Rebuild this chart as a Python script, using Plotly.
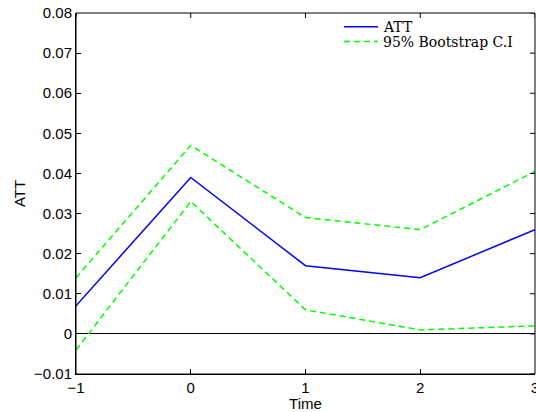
import plotly.graph_objects as go

time = [-1, 0, 1, 2, 3]
att = [0.007, 0.039, 0.017, 0.014, 0.026]
ci_upper = [0.014, 0.047, 0.029, 0.026, 0.0405]
ci_lower = [-0.004, 0.033, 0.006, 0.001, 0.002]

x_ticks = [-1, 0, 1, 2, 3]
y_ticks = [-0.01, 0, 0.01, 0.02, 0.03, 0.04, 0.05, 0.06, 0.07, 0.08]
x_range = [-1, 3]
y_range = [-0.01, 0.08]

legend_labels = ["ATT", "95% Bootstrap C.I"]
BLUE = "#0000ff"
GREEN = "#00ff00"
DASH = "6px,4px"

W, H = 536, 412
ML, MR, MT, MB = 76, 1, 13, 38
PW, PH = W - ML - MR, H - MT - MB
TICKLEN = 5

fig = go.Figure()
fig.add_trace(go.Scatter(x=time, y=att, mode="lines", name=legend_labels[0],
                         line=dict(color=BLUE, width=1.5)))
fig.add_trace(go.Scatter(x=time, y=ci_upper, mode="lines", name=legend_labels[1],
                         line=dict(color=GREEN, width=1.5, dash=DASH)))
fig.add_trace(go.Scatter(x=time, y=ci_lower, mode="lines", name=legend_labels[1],
                         line=dict(color=GREEN, width=1.5, dash=DASH)))

sans = "Liberation Sans, Arial, Helvetica, sans-serif"
tickfont = dict(family=sans, size=15, color="black")
axis_common = dict(showgrid=False, showline=True, linecolor="black", linewidth=1,
                   ticks="inside", ticklen=TICKLEN, tickcolor="black", tickwidth=1,
                   automargin=False, tickfont=tickfont)

# frame box and mirrored tick marks on top / right (MATLAB "box on")
shapes = [dict(type="rect", xref="paper", yref="paper", x0=0, x1=1, y0=0, y1=1,
               line=dict(color="black", width=1), layer="above")]
for xv in x_ticks:
    shapes.append(dict(type="line", xref="x", yref="paper", x0=xv, x1=xv,
                       y0=1, y1=1 - TICKLEN / PH, line=dict(color="black", width=1)))
for yv in y_ticks:
    shapes.append(dict(type="line", xref="paper", yref="y", x0=1, x1=1 - TICKLEN / PW,
                       y0=yv, y1=yv, line=dict(color="black", width=1)))

# legend drawn as paper-positioned samples and labels (no box, like the reference)
leg_x0, leg_x1, leg_tx = 0.584, 0.658, 0.664
leg_rows = [0.962, 0.921]
shapes += [
    dict(type="line", xref="paper", yref="paper", x0=leg_x0, x1=leg_x1,
         y0=leg_rows[0], y1=leg_rows[0], line=dict(color=BLUE, width=1.5)),
    dict(type="line", xref="paper", yref="paper", x0=leg_x0, x1=leg_x1,
         y0=leg_rows[1], y1=leg_rows[1], line=dict(color=GREEN, width=1.5, dash=DASH)),
]
annotations = [
    dict(text=lab, xref="paper", yref="paper", x=leg_tx, y=yy, xanchor="left", yanchor="middle",
         showarrow=False, font=dict(family="DejaVu Serif, Liberation Serif, serif", size=14, color="black"))
    for lab, yy in zip(legend_labels, leg_rows)
]

fig.update_layout(
    width=W, height=H,
    margin=dict(l=ML, r=MR, t=MT, b=MB),
    paper_bgcolor="white", plot_bgcolor="white",
    showlegend=False,
    shapes=shapes,
    annotations=annotations,
    xaxis=dict(range=x_range, tickvals=x_ticks, zeroline=False, ticklabeloverflow="allow",
               title=dict(text="Time", standoff=2, font=dict(family=sans, size=15, color="black")),
               **axis_common),
    yaxis=dict(range=y_range, tickvals=y_ticks, zeroline=True,
               zerolinecolor="black", zerolinewidth=1,
               title=dict(text="ATT", standoff=4, font=dict(family=sans, size=15, color="black")),
               **axis_common),
)

fig.write_html("out.html", config={"displayModeBar": False},
               post_script="document.body.style.margin='0';document.body.style.overflow='hidden';")
